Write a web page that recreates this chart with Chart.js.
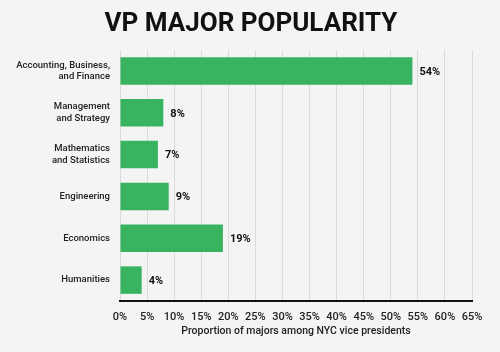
<!DOCTYPE html>
<html>
<head>
<meta charset="utf-8">
<script src="https://cdn.jsdelivr.net/npm/chart.js@4/dist/chart.umd.min.js"></script>
<style>
html,body{margin:0;padding:0;background:#f4f4f4;}
#wrap{width:500px;height:352px;position:relative;}
</style>
</head>
<body>
<div id="wrap"><canvas id="c" width="500" height="352"></canvas></div>
<script>
const categories = [
  ["Accounting, Business,", "and Finance"],
  ["Management", "and Strategy"],
  ["Mathematics", "and Statistics"],
  "Engineering",
  "Economics",
  "Humanities"
];
const values = [54, 8, 7, 9, 19, 4];
const tickStep = 5;
const axisMax = 65;
const titleText = "VP MAJOR POPULARITY";
const xAxisTitle = "Proportion of majors among NYC vice presidents";

const bgPlugin = {
  id: 'bg',
  beforeDraw(chart) {
    const ctx = chart.ctx;
    ctx.save();
    ctx.fillStyle = '#f4f4f4';
    ctx.fillRect(0, 0, chart.width, chart.height);
    ctx.fillStyle = '#111';
    ctx.font = 'bold 26px Roboto';
    ctx.textAlign = 'center';
    ctx.textBaseline = 'alphabetic';
    ctx.fillText(titleText, 251, 31);
    ctx.restore();
  }
};

const valueLabels = {
  id: 'valueLabels',
  afterDatasetsDraw(chart) {
    const ctx = chart.ctx;
    const meta = chart.getDatasetMeta(0);
    ctx.save();
    ctx.font = 'bold 11px Roboto';
    ctx.fillStyle = '#111';
    ctx.textBaseline = 'middle';
    ctx.textAlign = 'left';
    meta.data.forEach((bar, i) => {
      ctx.fillText(values[i] + '%', bar.x + 7, bar.y + 1);
    });
    ctx.restore();
  }
};

new Chart(document.getElementById('c'), {
  type: 'bar',
  data: {
    labels: categories,
    datasets: [{
      data: values,
      backgroundColor: '#38b460',
      borderWidth: 0,
      barPercentage: 0.73,
      categoryPercentage: 0.9
    }]
  },
  options: {
    indexAxis: 'y',
    responsive: false,
    animation: false,
    devicePixelRatio: 1,
    layout: { padding: { left: 0, right: 28, top: 50, bottom: 0 } },
    plugins: {
      legend: { display: false },
      tooltip: { enabled: false },
      title: { display: false }
    },
    scales: {
      x: {
        min: 0,
        max: axisMax,
        afterFit(scale) { scale.height = 51; },
        ticks: {
          stepSize: tickStep,
          callback: v => v + '%',
          color: '#222',
          font: { family: 'Roboto', size: 11, weight: '500' },
          padding: 10,
          maxRotation: 0,
          autoSkip: false
        },
        grid: { color: '#dadada', lineWidth: 1, drawTicks: false },
        border: { display: true, color: '#111', width: 2 },
        title: {
          display: true,
          text: xAxisTitle,
          color: '#222',
          font: { family: 'Roboto', size: 10.5, weight: '500' },
          padding: { top: 2, bottom: 14 }
        }
      },
      y: {
        afterFit(scale) { scale.width = 120; },
        ticks: {
          color: '#222',
          font: { family: 'Roboto', size: 9.5, weight: '500', lineHeight: 1.2 },
          padding: 10
        },
        grid: { display: false, drawTicks: false },
        border: { display: false }
      }
    }
  },
  plugins: [bgPlugin, valueLabels]
});
</script>
</body>
</html>
